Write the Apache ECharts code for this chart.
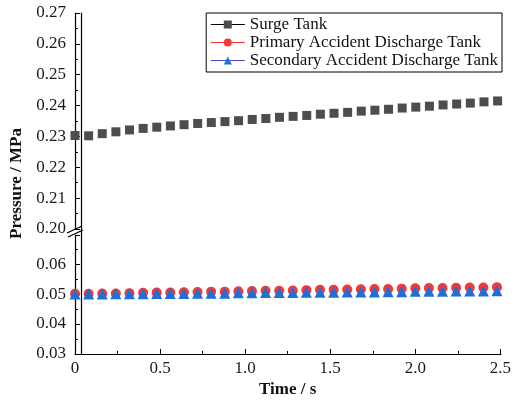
<!DOCTYPE html>
<html>
<head>
<meta charset="utf-8">
<script src="https://cdn.jsdelivr.net/npm/echarts@6.0.0/dist/echarts.min.js"></script>
<style>
  html, body { margin: 0; padding: 0; background: #fff; }
  #chart { width: 514px; height: 402px; }
</style>
</head>
<body>
<div id="chart"></div>
<script>
// time samples (s)
const times = [0, 0.08, 0.16, 0.24, 0.32, 0.40, 0.48, 0.56, 0.64, 0.72, 0.80, 0.88, 0.96, 1.04, 1.12, 1.20,
  1.28, 1.36, 1.44, 1.52, 1.60, 1.68, 1.76, 1.84, 1.92, 2.00, 2.08, 2.16, 2.24, 2.32, 2.40, 2.48];
// pressure (MPa)
const surgeTank = [0.2303, 0.2302, 0.2309, 0.2315, 0.2321, 0.2326, 0.2330, 0.2334, 0.2338, 0.2342, 0.2345,
  0.2348, 0.2351, 0.2355, 0.2358, 0.2362, 0.2365, 0.2368, 0.2372, 0.2375, 0.2378, 0.2382, 0.2385, 0.2388,
  0.2392, 0.2395, 0.2398, 0.2402, 0.2405, 0.2408, 0.2412, 0.2415];
const primaryTank = [0.0501, 0.0501, 0.0502, 0.0502, 0.0503, 0.0504, 0.0505, 0.0505, 0.0506, 0.0507, 0.0508,
  0.0508, 0.0509, 0.0510, 0.0511, 0.0511, 0.0512, 0.0513, 0.0514, 0.0514, 0.0515, 0.0516, 0.0517, 0.0517,
  0.0518, 0.0519, 0.0520, 0.0520, 0.0521, 0.0522, 0.0522, 0.0523];
const secondaryTank = [0.0500, 0.0500, 0.0500, 0.0501, 0.0501, 0.0501, 0.0502, 0.0502, 0.0502, 0.0503, 0.0503,
  0.0503, 0.0504, 0.0504, 0.0505, 0.0505, 0.0505, 0.0506, 0.0506, 0.0506, 0.0507, 0.0507, 0.0507, 0.0508,
  0.0508, 0.0509, 0.0509, 0.0509, 0.0510, 0.0510, 0.0510, 0.0511];
const seriesNames = ['Surge Tank', 'Primary Accident Discharge Tank', 'Secondary Accident Discharge Tank'];

const font = 'Liberation Serif, Times New Roman, serif';
const pair = (ys) => times.map((t, i) => [t, ys[i]]);

const chart = echarts.init(document.getElementById('chart'));

const axisLine = { show: true, lineStyle: { color: '#000', width: 1.2 } };
const labelStyle = { color: '#1a1a1a', fontSize: 17, fontFamily: font };

chart.setOption({
  animation: false,
  backgroundColor: '#fff',
  grid: [
    { left: 75, top: 13, width: 426, height: 216 },
    { left: 75, top: 235, width: 426, height: 119 },
    { left: 75, top: 13, width: 426, height: 341 }
  ],
  legend: {
    orient: 'vertical',
    right: 12,
    top: 13,
    backgroundColor: '#fff',
    borderColor: '#000',
    borderWidth: 1,
    padding: [3, 4, 3, 4],
    itemGap: 1,
    itemWidth: 34,
    itemHeight: 10,
    textStyle: { color: '#111', fontSize: 17, fontFamily: font },
    data: [
      { name: seriesNames[0], lineStyle: { color: '#000', width: 1.2, opacity: 1 } },
      { name: seriesNames[1], lineStyle: { color: '#f03030', width: 1.2, opacity: 1 } },
      { name: seriesNames[2], lineStyle: { color: '#4a4ad0', width: 1.2, opacity: 1 } }
    ]
  },
  xAxis: [
    { type: 'value', gridIndex: 0, min: 0, max: 2.5, show: false },
    {
      type: 'value', gridIndex: 1, min: 0, max: 2.5, interval: 0.5,
      name: 'Time / s', nameLocation: 'middle', nameGap: 27,
      nameTextStyle: { color: '#111', fontSize: 17, fontWeight: 'bold', fontFamily: font },
      axisLine: axisLine,
      axisTick: { inside: true, length: 5, lineStyle: { color: '#000' } },
      minorTick: { show: true, splitNumber: 2, length: 3, lineStyle: { color: '#000' } },
      axisLabel: Object.assign({ margin: 6, formatter: v => v === 0 ? '0' : v.toFixed(1) }, labelStyle),
      splitLine: { show: false }
    },
    {
      type: 'value', gridIndex: 2, min: 0, max: 2.5, position: 'top',
      axisLine: axisLine, axisTick: { show: false }, axisLabel: { show: false }, splitLine: { show: false }
    }
  ],
  yAxis: [
    {
      type: 'value', gridIndex: 0, min: 0.20, max: 0.27, interval: 0.01,
      axisLine: axisLine,
      axisTick: { inside: true, length: 5, lineStyle: { color: '#000' } },
      minorTick: { show: true, splitNumber: 2, length: 3, lineStyle: { color: '#000' } },
      axisLabel: Object.assign({ margin: 9, formatter: v => v.toFixed(2) }, labelStyle),
      splitLine: { show: false }
    },
    {
      type: 'value', gridIndex: 1, min: 0.03, max: 0.0697, interval: 0.01,
      axisLine: axisLine,
      axisTick: { inside: true, length: 5, lineStyle: { color: '#000' } },
      minorTick: { show: true, splitNumber: 2, length: 3, lineStyle: { color: '#000' } },
      axisLabel: Object.assign({ margin: 9, showMaxLabel: false, formatter: v => v.toFixed(2) }, labelStyle),
      splitLine: { show: false }
    },
    {
      type: 'value', gridIndex: 2, position: 'right', min: 0, max: 1,
      axisLine: axisLine, axisTick: { show: false }, axisLabel: { show: false }, splitLine: { show: false }
    },
    {
      type: 'value', gridIndex: 2, position: 'left', min: 0, max: 1,
      name: 'Pressure / MPa', nameLocation: 'middle', nameGap: 56,
      nameTextStyle: { color: '#111', fontSize: 17, fontWeight: 'bold', fontFamily: font },
      axisLine: { show: false }, axisTick: { show: false }, axisLabel: { show: false }, splitLine: { show: false }
    }
  ],
  series: [
    {
      name: seriesNames[0], type: 'line', xAxisIndex: 0, yAxisIndex: 0,
      symbol: 'rect', symbolSize: 9, itemStyle: { color: '#4d4d4d' },
      lineStyle: { opacity: 0 }, data: pair(surgeTank), z: 3
    },
    {
      name: seriesNames[1], type: 'line', xAxisIndex: 1, yAxisIndex: 1,
      symbol: 'circle', symbolSize: 10, itemStyle: { color: '#ee3a3a' },
      lineStyle: { opacity: 0 }, data: pair(primaryTank), z: 3
    },
    {
      name: seriesNames[2], type: 'line', xAxisIndex: 1, yAxisIndex: 1,
      symbol: 'triangle', symbolSize: 11, itemStyle: { color: '#1f6fd8' },
      lineStyle: { opacity: 0 }, data: pair(secondaryTank), z: 4
    }
  ],
  graphic: [
    { type: 'line', shape: { x1: 67, y1: 233, x2: 82, y2: 226 }, style: { stroke: '#000', lineWidth: 1.3 } },
    { type: 'line', shape: { x1: 68, y1: 237, x2: 83, y2: 230 }, style: { stroke: '#000', lineWidth: 1.3 } }
  ]
});
</script>
</body>
</html>
